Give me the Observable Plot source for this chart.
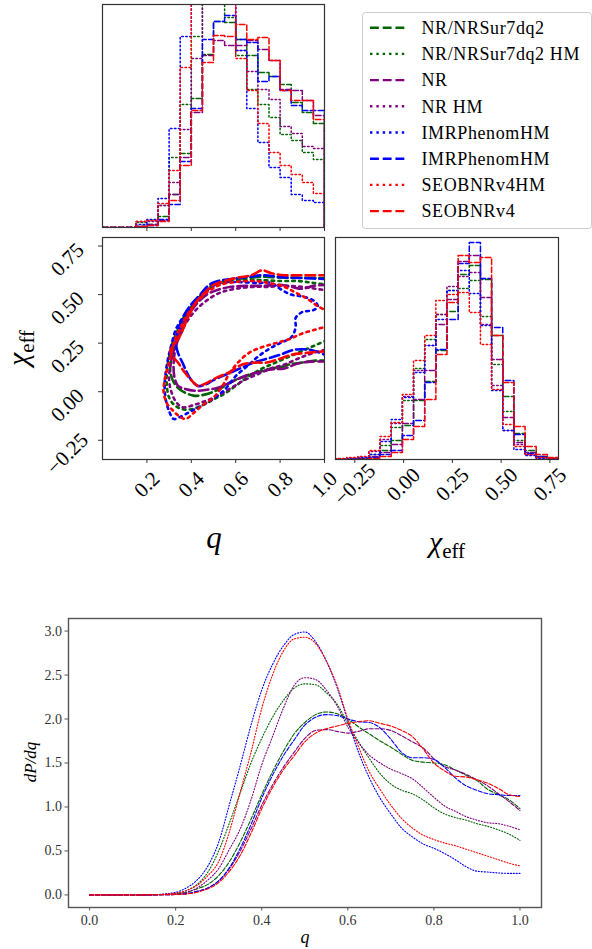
<!DOCTYPE html>
<html><head><meta charset="utf-8">
<script src="https://cdn.jsdelivr.net/npm/d3@7"></script>
<script src="https://cdn.jsdelivr.net/npm/@observablehq/plot@0.6"></script>
<style>
body{margin:0;background:#fff;}
#wrap{position:relative;width:592px;height:949px;overflow:hidden;background:#fff;}
#wrap svg, #wrap svg text, #wrap svg tspan {font-family:"Liberation Serif","DejaVu Serif",serif !important;}
</style></head><body><div id="wrap"></div>
<script>
// ---------- series ----------
const seriesNames = ["NR/NRSur7dq2","NR/NRSur7dq2 HM","NR","NR HM","IMRPhenomHM","IMRPhenomHM","SEOBNRv4HM","SEOBNRv4"];
const seriesColors = ["#006400","#006400","#800080","#800080","#0000ff","#0000ff","#ff0000","#ff0000"];
const seriesStyles = ["dashed","dotted","dashed","dotted","dotted","dashed","dotted","dashed"];

// ---------- q histograms (20 bins on [0,1]) ----------
const qHist_NRSur      = [0,0,0,0.01,0.03,0.11,0.33,0.74,1.29,1.73,2.06,2.05,1.88,1.72,1.55,1.51,1.43,1.25,1.15,1.04];
const qHist_NRSurHM    = [0,0,0,0.05,0.07,0.22,0.70,1.23,1.91,2.30,2.45,2.10,1.72,1.38,1.23,1.10,0.93,0.87,0.75,0.68];
const qHist_NR         = [0,0,0,0.01,0.03,0.07,0.33,0.70,1.15,1.72,1.87,1.82,1.82,1.87,1.78,1.67,1.38,1.37,1.27,1.12];
const qHist_NRHM       = [0,0,0,0.06,0.06,0.22,0.45,0.98,1.69,2.40,2.50,2.30,1.77,1.56,1.38,1.28,1.01,0.94,0.81,0.79];
const qHist_PhenomDot  = [0,0,0,0.03,0.08,0.29,0.99,1.91,2.70,3.00,2.90,2.45,1.77,1.19,0.85,0.60,0.50,0.33,0.27,0.25];
const qHist_PhenomDash = [0,0,0,0.01,0.02,0.08,0.23,0.66,1.19,1.88,2.06,2.12,1.88,1.85,1.46,1.51,1.37,1.22,1.17,1.17];
const qHist_SEOBHM     = [0,0,0,0.06,0.07,0.24,0.57,1.60,2.60,2.90,2.80,2.40,1.69,1.37,1.04,0.75,0.62,0.53,0.45,0.34];
const qHist_SEOB       = [0,0,0,0.01,0.02,0.06,0.27,0.62,1.17,1.65,1.92,1.91,2.03,1.88,1.90,1.67,1.37,1.27,1.27,1.08];

// ---------- chi_eff histograms (20 bins on chiRange) ----------
const chiRange = [-0.349, 0.794];
const chiHist_NRSur      = [0,0,0.005,0.02,0.09,0.19,0.34,0.59,0.78,1.09,1.48,1.85,1.94,1.80,1.24,0.63,0.26,0.09,0.03,0.01];
const chiHist_NRSurHM    = [0.005,0.01,0.01,0.05,0.14,0.32,0.59,0.91,1.20,1.45,1.69,1.71,1.79,1.43,0.95,0.48,0.19,0.06,0.02,0.01];
const chiHist_NR         = [0,0,0.005,0.03,0.07,0.15,0.36,0.60,0.89,1.35,1.60,1.98,2.04,1.62,1.00,0.42,0.17,0.07,0.02,0.01];
const chiHist_NRHM       = [0.005,0.01,0.02,0.08,0.20,0.36,0.63,0.89,1.14,1.45,1.73,1.83,1.87,1.35,0.74,0.29,0.15,0.05,0.02,0.01];
const chiHist_PhenomDot  = [0.005,0.01,0.02,0.05,0.18,0.40,0.62,0.87,1.14,1.40,1.69,1.89,1.66,1.34,0.69,0.29,0.10,0.04,0.01,0.005];
const chiHist_PhenomDash = [0,0,0,0.02,0.05,0.09,0.24,0.39,0.77,1.10,1.40,1.96,2.17,1.81,1.32,0.79,0.25,0.06,0.03,0.01];
const chiHist_SEOBHM     = [0.01,0.02,0.03,0.09,0.23,0.37,0.65,0.99,1.24,1.59,1.65,1.67,1.47,1.15,0.70,0.35,0.13,0.05,0.02,0.01];
const chiHist_SEOB       = [0,0,0,0.01,0.03,0.07,0.20,0.33,0.60,1.05,1.57,2.04,1.97,2.02,1.24,0.77,0.33,0.13,0.05,0.02];

// ---------- 90% contours in (q, chi_eff) ----------
const cont_NRSur = [[1.02,0.585],[0.9,0.587],[0.8,0.588],[0.72,0.592],[0.65,0.585],[0.58,0.578],[0.52,0.56],[0.47,0.53],[0.43,0.48],[0.39,0.42],[0.36,0.36],[0.34,0.3],[0.325,0.24],[0.31,0.17],[0.305,0.11],[0.32,0.05],[0.35,0.01],[0.41,-0.02],[0.46,-0.015],[0.52,0.01],[0.58,0.05],[0.64,0.08],[0.7,0.1],[0.76,0.12],[0.8,0.125],[0.84,0.14],[0.9,0.15],[0.96,0.16],[1.02,0.16]];
const cont_NRSurHM = [[1.02,0.55],[0.95,0.56],[0.88,0.57],[0.8,0.57],[0.7,0.575],[0.6,0.57],[0.52,0.55],[0.46,0.51],[0.41,0.45],[0.37,0.39],[0.34,0.32],[0.315,0.25],[0.3,0.18],[0.29,0.1],[0.29,0.03],[0.3,-0.03],[0.325,-0.07],[0.36,-0.09],[0.4,-0.09],[0.45,-0.07],[0.5,-0.04],[0.55,-0.01],[0.6,0.03],[0.66,0.08],[0.72,0.12],[0.78,0.15],[0.84,0.18],[0.9,0.21],[0.96,0.24],[1.02,0.27]];
const cont_NR = [[1.02,0.55],[0.95,0.545],[0.9,0.53],[0.85,0.54],[0.8,0.55],[0.72,0.545],[0.65,0.545],[0.58,0.54],[0.52,0.525],[0.47,0.5],[0.43,0.46],[0.39,0.4],[0.36,0.34],[0.34,0.27],[0.325,0.2],[0.32,0.13],[0.325,0.07],[0.34,0.03],[0.37,0.015],[0.42,0.005],[0.47,0.01],[0.52,0.02],[0.58,0.05],[0.64,0.08],[0.7,0.1],[0.76,0.115],[0.82,0.12],[0.88,0.145],[0.94,0.155],[1.02,0.155]];
const cont_NRHM = [[1.02,0.52],[0.96,0.53],[0.9,0.54],[0.82,0.545],[0.75,0.54],[0.68,0.54],[0.6,0.53],[0.53,0.51],[0.47,0.47],[0.42,0.42],[0.38,0.36],[0.35,0.29],[0.32,0.21],[0.305,0.13],[0.3,0.06],[0.31,0.0],[0.33,-0.05],[0.36,-0.08],[0.42,-0.065],[0.47,-0.045],[0.52,-0.02],[0.58,0.02],[0.64,0.06],[0.7,0.09],[0.76,0.12],[0.82,0.14],[0.88,0.17],[0.95,0.2],[1.02,0.22]];
const cont_PhenomDot = [[0.97,0.44],[0.95,0.47],[0.9,0.49],[0.85,0.5],[0.8,0.53],[0.76,0.56],[0.7,0.56],[0.6,0.565],[0.53,0.56],[0.48,0.53],[0.43,0.48],[0.39,0.43],[0.36,0.38],[0.33,0.32],[0.31,0.24],[0.295,0.17],[0.285,0.1],[0.28,0.03],[0.285,-0.04],[0.3,-0.1],[0.32,-0.14],[0.35,-0.13],[0.4,-0.1],[0.45,-0.07],[0.5,-0.035],[0.55,0.01],[0.6,0.08],[0.65,0.13],[0.7,0.18],[0.75,0.22],[0.8,0.25],[0.85,0.28],[0.87,0.33],[0.87,0.38],[0.9,0.41],[0.95,0.42]];
const cont_PhenomDash = [[1.02,0.58],[0.9,0.585],[0.8,0.59],[0.73,0.6],[0.65,0.59],[0.58,0.58],[0.52,0.57],[0.48,0.55],[0.44,0.5],[0.4,0.45],[0.37,0.4],[0.345,0.33],[0.33,0.26],[0.34,0.2],[0.36,0.15],[0.38,0.1],[0.4,0.06],[0.43,0.03],[0.46,0.035],[0.5,0.06],[0.56,0.09],[0.62,0.12],[0.68,0.15],[0.74,0.17],[0.8,0.19],[0.86,0.215],[0.94,0.215],[1.02,0.18]];
const cont_SEOBHM = [[1.02,0.41],[0.97,0.44],[0.92,0.48],[0.87,0.51],[0.82,0.54],[0.75,0.56],[0.68,0.57],[0.6,0.565],[0.53,0.55],[0.48,0.52],[0.43,0.47],[0.39,0.41],[0.36,0.35],[0.33,0.28],[0.31,0.2],[0.295,0.13],[0.28,0.06],[0.275,0.0],[0.29,-0.06],[0.32,-0.1],[0.35,-0.13],[0.375,-0.14],[0.41,-0.11],[0.45,-0.07],[0.5,-0.03],[0.54,0.03],[0.57,0.09],[0.61,0.15],[0.66,0.2],[0.72,0.23],[0.78,0.25],[0.84,0.27],[0.9,0.3],[0.96,0.32],[1.02,0.34]];
const cont_SEOB = [[1.02,0.6],[0.9,0.6],[0.82,0.6],[0.76,0.61],[0.72,0.625],[0.67,0.6],[0.6,0.585],[0.55,0.57],[0.5,0.55],[0.46,0.51],[0.42,0.46],[0.38,0.37],[0.35,0.29],[0.32,0.24],[0.305,0.21],[0.31,0.19],[0.34,0.15],[0.37,0.1],[0.4,0.06],[0.43,0.03],[0.46,0.04],[0.51,0.07],[0.57,0.1],[0.63,0.14],[0.69,0.15],[0.74,0.15],[0.8,0.17],[0.85,0.19],[0.92,0.2],[1.02,0.21]];

// ---------- dP/dq curves ----------
const qGrid = [0,0.1,0.15,0.2,0.225,0.25,0.275,0.3,0.325,0.35,0.375,0.4,0.425,0.45,0.475,0.5,0.525,0.55,0.575,0.6,0.625,0.65,0.675,0.7,0.725,0.75,0.775,0.8,0.825,0.85,0.875,0.9,0.925,0.95,0.975,1.0];
const kde_NRSur      = [0,0,0.002,0.01,0.03,0.07,0.12,0.22,0.38,0.6,0.86,1.14,1.4,1.63,1.83,1.96,2.05,2.08,2.06,2.0,1.91,1.83,1.75,1.68,1.6,1.53,1.51,1.5,1.48,1.42,1.36,1.3,1.2,1.14,1.08,0.98];
const kde_NRSurHM    = [0,0,0.003,0.02,0.05,0.12,0.26,0.5,0.82,1.16,1.5,1.78,2.02,2.21,2.35,2.4,2.39,2.3,2.17,1.95,1.74,1.55,1.38,1.26,1.19,1.15,1.08,0.99,0.92,0.88,0.85,0.81,0.78,0.74,0.69,0.62];
const kde_NR         = [0,0,0.001,0.005,0.015,0.04,0.08,0.16,0.3,0.5,0.75,1.02,1.25,1.45,1.62,1.78,1.87,1.88,1.86,1.84,1.86,1.89,1.89,1.87,1.81,1.74,1.67,1.55,1.46,1.42,1.37,1.31,1.24,1.15,1.06,0.96];
const kde_NRHM       = [0,0,0.002,0.015,0.03,0.08,0.17,0.3,0.52,0.75,1.08,1.48,1.8,2.12,2.38,2.47,2.45,2.33,2.15,1.91,1.73,1.59,1.5,1.43,1.38,1.32,1.22,1.11,1.01,0.95,0.89,0.85,0.82,0.81,0.78,0.74];
const kde_PhenomDot  = [0,0,0.003,0.03,0.08,0.17,0.33,0.6,1.03,1.47,1.93,2.33,2.62,2.83,2.96,2.99,2.88,2.66,2.36,1.98,1.62,1.33,1.1,0.92,0.76,0.66,0.58,0.53,0.47,0.4,0.32,0.27,0.26,0.25,0.245,0.245];
const kde_PhenomDash = [0,0,0.001,0.005,0.015,0.04,0.08,0.16,0.31,0.53,0.8,1.1,1.36,1.58,1.76,1.93,2.02,2.05,2.04,2.0,1.97,1.96,1.9,1.77,1.62,1.56,1.56,1.54,1.45,1.33,1.24,1.19,1.15,1.14,1.13,1.13];
const kde_SEOBHM     = [0,0,0.003,0.02,0.05,0.11,0.22,0.38,0.72,1.17,1.62,2.12,2.5,2.77,2.91,2.93,2.86,2.66,2.38,2.0,1.68,1.4,1.2,1.02,0.87,0.76,0.68,0.63,0.59,0.56,0.52,0.48,0.44,0.4,0.36,0.33];
const kde_SEOB       = [0,0,0.001,0.005,0.01,0.03,0.07,0.14,0.27,0.45,0.7,0.98,1.22,1.42,1.58,1.74,1.84,1.89,1.92,1.95,1.97,1.98,1.95,1.92,1.87,1.8,1.66,1.5,1.41,1.35,1.34,1.31,1.27,1.21,1.14,1.12];

// ---------- ticks ----------
const qTicks = [0.2,0.4,0.6,0.8,1.0];
const qTickLabels = ["0.2","0.4","0.6","0.8","1.0"];
const chiTicks = [-0.25,0,0.25,0.5,0.75];
const chiTickLabels = ["\u22120.25","0.00","0.25","0.50","0.75"];
const kdeXTicks = [0,0.2,0.4,0.6,0.8,1.0];
const kdeYTicks = [0,0.5,1,1.5,2,2.5,3];

// ---------- assemble ----------
const qHists = [qHist_NRSur,qHist_NRSurHM,qHist_NR,qHist_NRHM,qHist_PhenomDot,qHist_PhenomDash,qHist_SEOBHM,qHist_SEOB];
const chiHists = [chiHist_NRSur,chiHist_NRSurHM,chiHist_NR,chiHist_NRHM,chiHist_PhenomDot,chiHist_PhenomDash,chiHist_SEOBHM,chiHist_SEOB];
const contours = [cont_NRSur,cont_NRSurHM,cont_NR,cont_NRHM,cont_PhenomDot,cont_PhenomDash,cont_SEOBHM,cont_SEOB];
const kdes = [kde_NRSur,kde_NRSurHM,kde_NR,kde_NRHM,kde_PhenomDot,kde_PhenomDash,kde_SEOBHM,kde_SEOB];

const qEdges = d3.range(21).map(i => i / 20);
const chiEdges = d3.range(21).map(i => chiRange[0] + i * (chiRange[1] - chiRange[0]) / 20);

function stepData(edges, vals) {
  const pts = [{x: edges[0], y: 0}];
  vals.forEach((v, i) => pts.push({x: edges[i], y: v}));
  pts.push({x: edges[edges.length - 1], y: vals[vals.length - 1]});
  pts.push({x: edges[edges.length - 1], y: 0});
  return pts;
}
function dash(style, lw) {
  return style === "dashed" ? `${3.7*lw},${1.6*lw}` : `${1*lw},${1.65*lw}`;
}
const FONT = "Liberation Serif";
function pos(left, top, extra) {
  return `position:absolute;left:${left}px;top:${top}px;overflow:visible;background:transparent;color:#000;${extra||""}`;
}
const wrap = document.getElementById("wrap");

// Panel A: q histogram
const panelA = Plot.plot({
  width: 330, height: 232, marginLeft: 102, marginRight: 6, marginTop: 4, marginBottom: 5,
  style: pos(0, 0),
  x: {domain: [0, 1]}, y: {domain: [0, 2.23], axis: null},
  marks: [
    ...qHists.map((h, i) => Plot.line(stepData(qEdges, h), {x: "x", y: "y", curve: "step-after",
      stroke: seriesColors[i], strokeWidth: 1.5, strokeDasharray: dash(seriesStyles[i], 1.5), clip: true})),
    Plot.frame({stroke: "#333", strokeWidth: 1.2}),
    Plot.axisX({ticks: qTicks, tickSize: 4, tickFormat: () => "", label: null, stroke: "#333"})
  ]
});
wrap.appendChild(panelA);

// Panel B: 2D contours
const panelB = Plot.plot({
  width: 330, height: 330, marginLeft: 102, marginRight: 6, marginTop: 5, marginBottom: 103,
  style: pos(0, 232),
  x: {domain: [0, 1]}, y: {domain: chiRange},
  marks: [
    ...contours.map((c, i) => Plot.line(c, {x: d => d[0], y: d => d[1],
      curve: i === 4 ? "catmull-rom-closed" : "catmull-rom",
      stroke: seriesColors[i], strokeWidth: 2.6, strokeDasharray: dash(seriesStyles[i], 2.6), clip: true})),
    Plot.frame({stroke: "#333", strokeWidth: 1.2}),
    Plot.axisX({ticks: qTicks, tickSize: 4, tickFormat: () => "", label: null, stroke: "#333"}),
    Plot.axisY({ticks: chiTicks, tickSize: 4, tickFormat: () => "", label: null, stroke: "#333"}),
    Plot.text(qTicks, {x: d => d, text: (d, i) => qTickLabels[i], frameAnchor: "bottom", dy: 25, rotate: -45,
      fontSize: 21, fontFamily: FONT, textAnchor: "middle", lineAnchor: "middle", fill: "#000"}),
    Plot.text(chiTicks, {y: d => d, text: (d, i) => chiTickLabels[i], frameAnchor: "left", dx: -35, dy: 13.5, rotate: -45,
      fontSize: 21, fontFamily: FONT, textAnchor: "middle", lineAnchor: "middle", fill: "#000"})
  ]
});
wrap.appendChild(panelB);

// Panel C: chi_eff histogram
const panelC = Plot.plot({
  width: 262, height: 330, marginLeft: 5, marginRight: 34, marginTop: 5, marginBottom: 103,
  style: pos(330, 232),
  x: {domain: chiRange}, y: {domain: [0, 2.22], axis: null},
  marks: [
    ...chiHists.map((h, i) => Plot.line(stepData(chiEdges, h), {x: "x", y: "y", curve: "step-after",
      stroke: seriesColors[i], strokeWidth: 1.5, strokeDasharray: dash(seriesStyles[i], 1.5), clip: true})),
    Plot.frame({stroke: "#333", strokeWidth: 1.2}),
    Plot.axisX({ticks: chiTicks, tickSize: 4, tickFormat: () => "", label: null, stroke: "#333"}),
    Plot.text(chiTicks, {x: d => d, text: (d, i) => chiTickLabels[i], frameAnchor: "bottom", dy: 25, rotate: -45,
      fontSize: 21, fontFamily: FONT, textAnchor: "middle", lineAnchor: "middle", fill: "#000"})
  ]
});
wrap.appendChild(panelC);

// Panel D: dP/dq
const panelD = Plot.plot({
  width: 592, height: 349, marginLeft: 68, marginRight: 51, marginTop: 18, marginBottom: 42,
  style: pos(0, 600, "font-size:14px;color:#333;"),
  x: {domain: [-0.049, 1.05]}, y: {domain: [-0.143, 3.143]},
  marks: [
    ...kdes.map((k, i) => Plot.line(qGrid.map((q, j) => ({q, d: k[j]})), {x: "q", y: "d", curve: "monotone-x",
      stroke: seriesColors[i], strokeWidth: 1.1, strokeDasharray: dash(seriesStyles[i], 1.1)})),
    Plot.frame({stroke: "#555", strokeWidth: 1.4}),
    Plot.axisX({ticks: kdeXTicks, tickSize: 3.5, tickPadding: 4, tickFormat: d3.format(".1f"), label: null, stroke: "#555", fontSize: 14, fontFamily: FONT}),
    Plot.axisY({ticks: kdeYTicks, tickSize: 3.5, tickPadding: 3, tickFormat: d3.format(".1f"), label: null, stroke: "#555", fontSize: 14, fontFamily: FONT})
  ]
});
wrap.appendChild(panelD);

// Overlay: axis labels and legend
const ov = d3.select(wrap).append("svg")
  .attr("width", 592).attr("height", 949)
  .style("position", "absolute").style("left", "0px").style("top", "0px");

function chiEff(g, size) {
  g.append("tspan").attr("font-style", "italic").attr("font-size", size).text("\u03c7");
  g.append("tspan").attr("font-size", size * 0.7).attr("dy", size * 0.2).text("eff");
}
// q label (corner)
ov.append("text").attr("x", 214).attr("y", 548).attr("text-anchor", "middle")
  .attr("font-size", 31).attr("font-style", "italic").text("q");
// chi_eff x label
chiEff(ov.append("text").attr("x", 447).attr("y", 552).attr("text-anchor", "middle"), 30);
// chi_eff y label
chiEff(ov.append("text").attr("transform", "translate(28,348) rotate(-90)").attr("text-anchor", "middle"), 30);
// bottom labels
ov.append("text").attr("x", 305).attr("y", 943).attr("text-anchor", "middle")
  .attr("font-size", 18).attr("font-style", "italic").text("q");
ov.append("text").attr("transform", "translate(36,762) rotate(-90)").attr("text-anchor", "middle")
  .attr("font-size", 17).attr("font-style", "italic").text("dP/dq");

// legend
ov.append("rect").attr("x", 362.5).attr("y", 12.5).attr("width", 229).attr("height", 216).attr("rx", 3)
  .attr("fill", "white").attr("stroke", "#cccccc").attr("stroke-width", 1);
seriesNames.forEach((name, i) => {
  const y = 27.7 + i * 26.2;
  ov.append("line").attr("x1", 370).attr("x2", 407).attr("y1", y).attr("y2", y)
    .attr("stroke", seriesColors[i]).attr("stroke-width", 2.4)
    .attr("stroke-dasharray", dash(seriesStyles[i], 2.4));
  ov.append("text").attr("x", 421.5).attr("y", y).attr("dy", "0.35em")
    .attr("font-size", 18).attr("letter-spacing", "0.6px").text(name);
});
</script>
</body></html>
